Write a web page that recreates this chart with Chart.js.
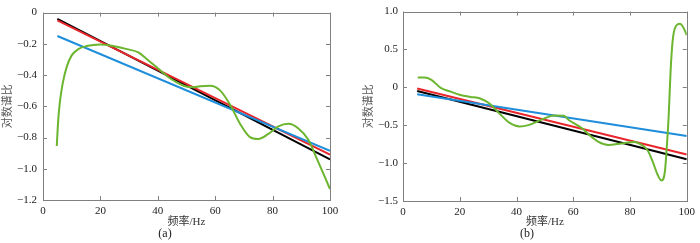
<!DOCTYPE html>
<html>
<head>
<meta charset="utf-8">
<script src="https://cdn.jsdelivr.net/npm/chart.js@4.4.1/dist/chart.umd.min.js"></script>
<style>
body { margin: 0; background: #fff; }
.box { position: absolute; top: 0; width: 350px; height: 243px; }
</style>
</head>
<body>
<div class="box" style="left:0"><canvas id="chartA" width="350" height="243"></canvas></div>
<div class="box" style="left:350px"><canvas id="chartB" width="350" height="243"></canvas></div>
<script>
// straight fitted lines, only end points
const freqLine = [5, 100];

// panel (a)
const blackA = [-0.04, -0.94];
const redA = [-0.05, -0.91];
const blueA = [-0.15, -0.885];
const freqGreenA = [4.8, 5.3, 5.9, 6.9, 8.3, 10, 12.3, 15.2, 19.9, 24.5, 29.2, 33.2, 36, 40, 44, 49, 52.4, 54.7, 58.2, 61.7, 65.2, 68.6, 72.1, 75, 78.5, 82, 85.5, 89, 92.4, 95.4, 98.3, 100];
const greenA = [-0.854, -0.69, -0.57, -0.45, -0.346, -0.274, -0.234, -0.214, -0.204, -0.214, -0.234, -0.254, -0.295, -0.356, -0.417, -0.468, -0.478, -0.472, -0.468, -0.498, -0.59, -0.71, -0.797, -0.809, -0.777, -0.728, -0.712, -0.742, -0.813, -0.935, -1.057, -1.13];

// panel (b)
const blackB = [-0.048, -0.948];
const redB = [-0.014, -0.885];
const blueB = [-0.09, -0.643];
const freqGreenB = [5.2, 7.5, 10, 13.3, 16.8, 20.2, 23.7, 27.2, 30.7, 34.1, 37.6, 41.1, 44.5, 49.2, 53.2, 56.7, 58.4, 63.1, 65.4, 68.9, 72.3, 77, 81.6, 84.5, 86.2, 88, 89.7, 91.1, 92.3, 93, 93.6, 94, 94.5, 95.2, 96.4, 97.6, 98.8, 100];
const greenB = [0.129, 0.13, 0.1, -0.006, -0.057, -0.1, -0.126, -0.147, -0.22, -0.35, -0.47, -0.516, -0.495, -0.42, -0.37, -0.376, -0.43, -0.54, -0.62, -0.72, -0.76, -0.74, -0.72, -0.77, -0.83, -0.98, -1.15, -1.23, -1.11, -0.77, -0.4, -0.05, 0.35, 0.67, 0.82, 0.84, 0.79, 0.69];

const xTicks = [0, 20, 40, 60, 80, 100];
const yTicksA = [0, -0.2, -0.4, -0.6, -0.8, -1.0, -1.2];
const yTicksB = [1.0, 0.5, 0, -0.5, -1.0, -1.5];

const SERIF = "'Liberation Serif', 'Times New Roman', 'Noto Sans CJK SC', serif";
const CJK = "'Noto Sans CJK SC', sans-serif";
const AXIS = '#808080';

function pts(xs, ys) {
    return xs.map((x, i) => ({x: x, y: ys[i]}));
}

function fmt(v) {
    if (Math.abs(v) < 1e-9) return '0';
    return (v < 0 ? '\u2212' : '') + Math.abs(v).toFixed(1);
}

// box round the plot + inward tick marks on all four sides
const framePlugin = {
    id: 'frame',
    afterDraw(chart) {
        const ctx = chart.ctx;
        const a = chart.chartArea;
        const xs = chart.scales.x, ys = chart.scales.y;
        ctx.save();
        ctx.strokeStyle = AXIS;
        ctx.lineWidth = 1;
        ctx.strokeRect(Math.round(a.left) + 0.5, Math.round(a.top) + 0.5, Math.round(a.right - a.left), Math.round(a.bottom - a.top));
        ctx.beginPath();
        xs.ticks.forEach(t => {
            const px = Math.round(xs.getPixelForValue(t.value)) + 0.5;
            ctx.moveTo(px, a.bottom); ctx.lineTo(px, a.bottom - 4);
            ctx.moveTo(px, a.top); ctx.lineTo(px, a.top + 4);
        });
        ys.ticks.forEach(t => {
            const py = Math.round(ys.getPixelForValue(t.value)) + 0.5;
            ctx.moveTo(a.left, py); ctx.lineTo(a.left + 4, py);
            ctx.moveTo(a.right, py); ctx.lineTo(a.right - 4, py);
        });
        ctx.stroke();
        ctx.restore();
    }
};

function makeChart(id, cfg) {
    const lineDs = (data, color) => ({
        data: pts(freqLine, data), borderColor: color, borderWidth: 2,
        pointRadius: 0, tension: 0, fill: false
    });
    new Chart(document.getElementById(id), {
        type: 'line',
        data: {
            datasets: [
                {
                    data: pts(cfg.freqGreen, cfg.green), borderColor: '#6bb52f', borderWidth: 2,
                    pointRadius: 0, cubicInterpolationMode: 'monotone', fill: false
                },
                lineDs(cfg.blue, '#1e8ddb'),
                lineDs(cfg.red, '#e8262b'),
                lineDs(cfg.black, '#000000')
            ]
        },
        options: {
            responsive: false,
            animation: false,
            devicePixelRatio: 1,
            layout: {padding: cfg.padding},
            plugins: {
                legend: {display: false},
                tooltip: {enabled: false},
                subtitle: {
                    display: true, text: cfg.caption, position: 'bottom', color: '#222',
                    font: {family: SERIF, size: 12, lineHeight: 1},
                    padding: {top: 0, bottom: 3}
                }
            },
            scales: {
                x: {
                    type: 'linear', min: 0, max: 100,
                    afterBuildTicks: s => { s.ticks = xTicks.map(v => ({value: v})); },
                    afterFit: s => { s.height = cfg.xHeight; },
                    grid: {display: false, drawTicks: false},
                    border: {display: false},
                    ticks: {color: '#222', font: {family: SERIF, size: 11}, padding: 5, maxRotation: 0},
                    title: {
                        display: true, text: '频率/Hz', color: '#333',
                        font: {family: SERIF, size: 11, lineHeight: 1}, padding: {top: 0, bottom: 0}
                    }
                },
                y: {
                    type: 'linear', min: cfg.yMin, max: cfg.yMax,
                    afterBuildTicks: s => { s.ticks = cfg.yTicks.map(v => ({value: v})); },
                    afterFit: s => { s.width = cfg.yWidth; },
                    grid: {display: false, drawTicks: false},
                    border: {display: false},
                    ticks: {color: '#222', font: {family: SERIF, size: 11}, padding: cfg.yPad, callback: v => fmt(v)},
                    title: {
                        display: true, text: '对数谱比', color: '#555',
                        font: {family: CJK, size: 11}, padding: {top: 0, bottom: 0}
                    }
                }
            }
        },
        plugins: [framePlugin]
    });
}

makeChart('chartA', {
    black: blackA, red: redA, blue: blueA, freqGreen: freqGreenA, green: greenA,
    yMin: -1.2, yMax: 0, yTicks: yTicksA, caption: '(a)',
    padding: {left: 0, top: 3, right: 20, bottom: 0},
    yWidth: 43, yPad: 6, xHeight: 28
});

makeChart('chartB', {
    black: blackB, red: redB, blue: blueB, freqGreen: freqGreenB, green: greenB,
    yMin: -1.5, yMax: 1.0, yTicks: yTicksB, caption: '(b)',
    padding: {left: 11, top: 4, right: 7, bottom: 0},
    yWidth: 42, yPad: 5, xHeight: 27
});
</script>
</body>
</html>
